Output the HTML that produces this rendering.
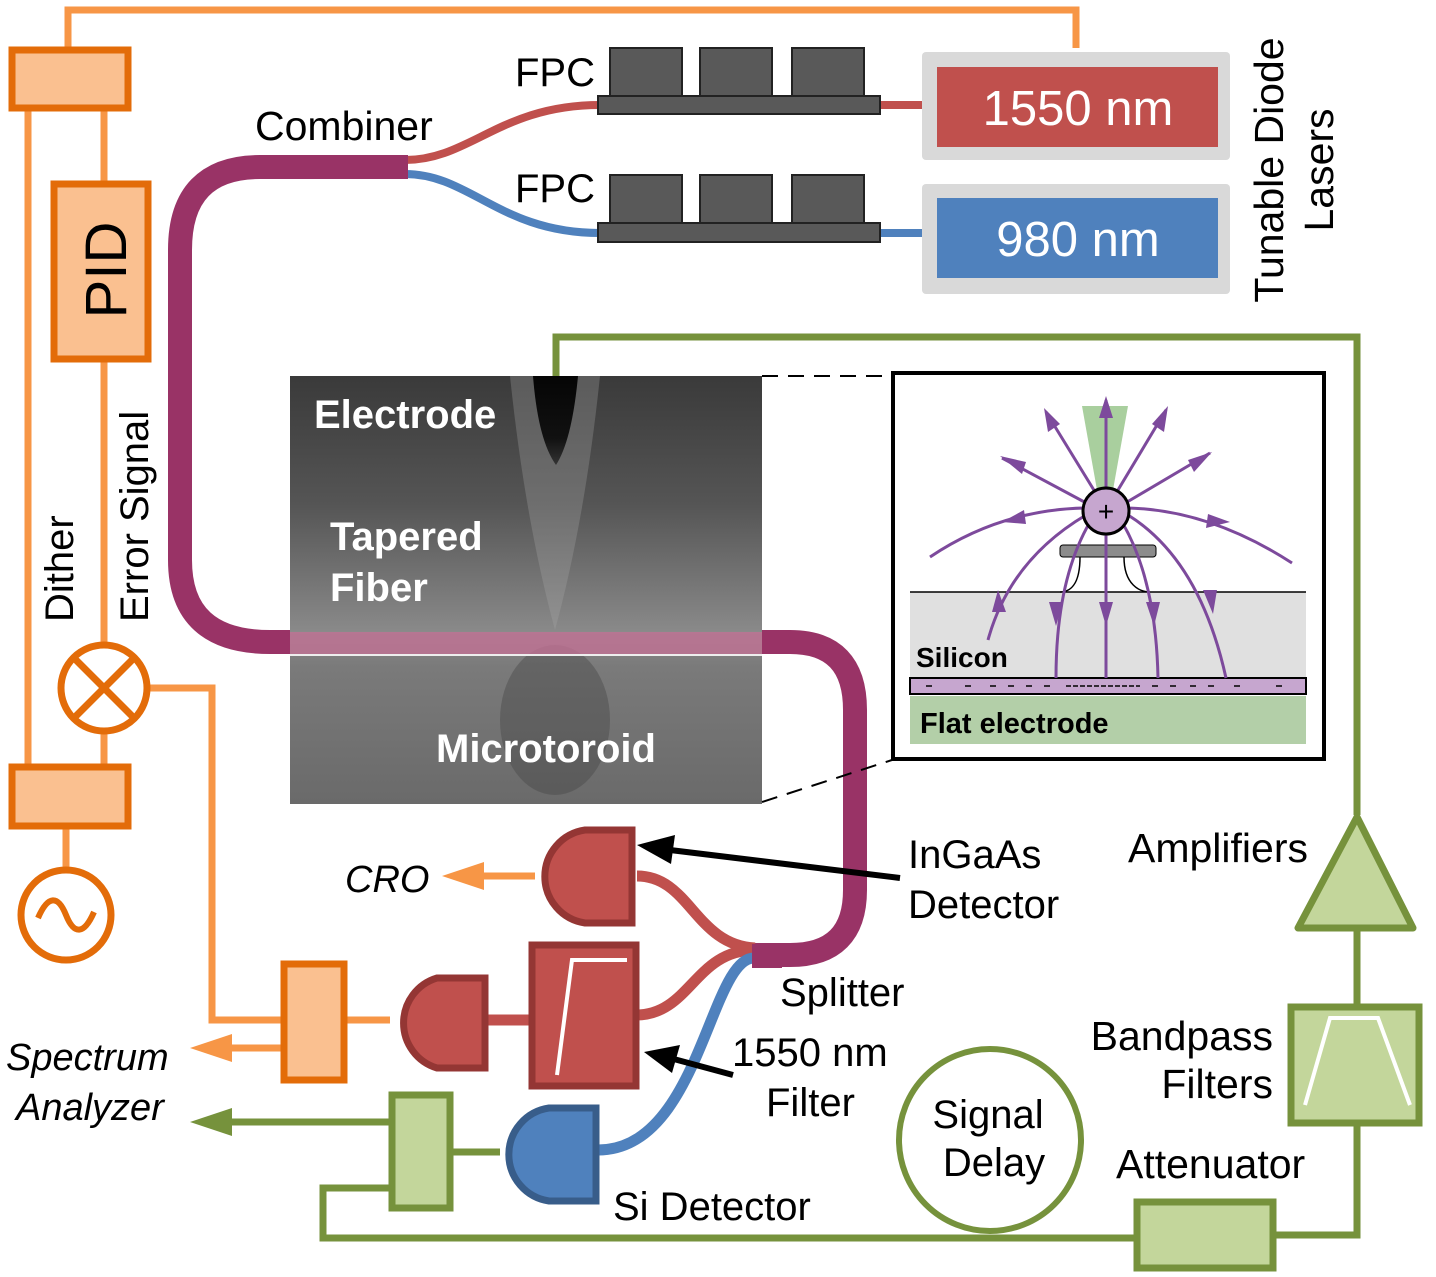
<!DOCTYPE html>
<html><head><meta charset="utf-8"><style>
html,body{margin:0;padding:0;background:#fff}
svg{display:block}
text{font-family:"Liberation Sans",Arial,sans-serif}
</style></head><body>
<svg width="1436" height="1277" viewBox="0 0 1436 1277" xmlns="http://www.w3.org/2000/svg">
<defs>
<linearGradient id="img" x1="0" y1="0" x2="0" y2="1">
<stop offset="0" stop-color="#3a3a3a"/><stop offset="0.3" stop-color="#555"/><stop offset="0.6" stop-color="#8a8a8a"/><stop offset="0.68" stop-color="#7a7a7a"/><stop offset="1" stop-color="#6a6a6a"/>
</linearGradient>
<linearGradient id="tipg" x1="0" y1="0" x2="0" y2="1">
<stop offset="0" stop-color="#050505"/><stop offset="0.7" stop-color="#111"/><stop offset="1" stop-color="#333"/>
</linearGradient>
<clipPath id="ic"><rect x="290" y="376" width="472" height="428"/></clipPath>
</defs>

<!-- orange control lines -->
<g stroke="#f79646" stroke-width="7" fill="none">
<polyline points="68,48 68,10 1076,10 1076,48"/>
<line x1="28" y1="108" x2="28" y2="765"/>
<line x1="104" y1="108" x2="104" y2="182"/>
<line x1="104" y1="360" x2="104" y2="765"/>
<line x1="66" y1="828" x2="66" y2="870"/>
<polyline points="150,688 212,688 212,1020 282,1020"/>
<line x1="345" y1="1020" x2="390" y2="1020"/>
<line x1="282" y1="1048" x2="230" y2="1048"/>
<line x1="535" y1="876" x2="480" y2="876"/>
</g>
<polygon points="190,1048 232,1034 232,1062" fill="#f79646"/>
<polygon points="442,876 484,862 484,890" fill="#f79646"/>
<rect x="12" y="50" width="116" height="58" fill="#fac090" stroke="#e36c09" stroke-width="7"/>
<rect x="54" y="184" width="94" height="175" fill="#fac090" stroke="#e36c09" stroke-width="7"/>
<text transform="translate(126,270) rotate(-90)" font-size="58" text-anchor="middle">PID</text>
<rect x="12" y="767" width="116" height="59" fill="#fac090" stroke="#e36c09" stroke-width="7"/>
<circle cx="104" cy="688" r="43" fill="#fff" stroke="#e36c09" stroke-width="7"/>
<g stroke="#e36c09" stroke-width="7"><line x1="74" y1="658" x2="134" y2="718"/><line x1="134" y1="658" x2="74" y2="718"/></g>
<circle cx="66" cy="915" r="45" fill="#fff" stroke="#e36c09" stroke-width="7"/>
<path d="M38,918 C48,895 58,895 66,915 C74,935 84,935 94,912" stroke="#e36c09" stroke-width="6" fill="none"/>
<rect x="284" y="964" width="60" height="116" fill="#fac090" stroke="#e36c09" stroke-width="7"/>
<text transform="translate(73,622) rotate(-90)" font-size="40">Dither</text>
<text transform="translate(148,622) rotate(-90)" font-size="40">Error Signal</text>

<!-- green lines -->
<g stroke="#76923c" stroke-width="7" fill="none">
<polyline points="556,376 556,337 1357,337 1357,815"/>
<line x1="1357" y1="930" x2="1357" y2="1005"/>
<polyline points="1357,1125 1357,1235 1275,1235"/>
<polyline points="1135,1238 323,1238 323,1188 390,1188"/>
<line x1="452" y1="1152" x2="500" y2="1152"/>
<line x1="390" y1="1122" x2="230" y2="1122"/>
</g>
<polygon points="190,1122 232,1108 232,1136" fill="#76923c"/>
<polygon points="1357,817 1298,928 1413,928" fill="#c3d69b" stroke="#76923c" stroke-width="7" stroke-linejoin="round"/>
<rect x="1291" y="1007" width="128" height="116" fill="#c3d69b" stroke="#76923c" stroke-width="7"/>
<polyline points="1305,1105 1330,1018 1378,1018 1410,1105" stroke="#fff" stroke-width="4" fill="none"/>
<rect x="1137" y="1202" width="136" height="66" fill="#c3d69b" stroke="#76923c" stroke-width="7"/>
<rect x="392" y="1095" width="58" height="113" fill="#c3d69b" stroke="#76923c" stroke-width="7"/>
<circle cx="990" cy="1140" r="91" fill="#fff" stroke="#76923c" stroke-width="6"/>
<text x="988" y="1128" font-size="40" text-anchor="middle">Signal</text>
<text x="994" y="1176" font-size="40" text-anchor="middle">Delay</text>

<!-- FPC & lasers -->
<path d="M405,160 C470,160 500,105 600,105" stroke="#c0504d" stroke-width="8" fill="none"/>
<path d="M405,174 C470,174 500,233 600,233" stroke="#4f81bd" stroke-width="8" fill="none"/>
<line x1="880" y1="105" x2="935" y2="105" stroke="#c0504d" stroke-width="8"/>
<line x1="880" y1="233" x2="935" y2="233" stroke="#4f81bd" stroke-width="8"/>
<g fill="#595959" stroke="#222" stroke-width="2">
<rect x="610" y="48" width="72" height="48"/><rect x="700" y="48" width="72" height="48"/><rect x="792" y="48" width="72" height="48"/>
<rect x="598" y="96" width="282" height="18"/>
<rect x="610" y="175" width="72" height="48"/><rect x="700" y="175" width="72" height="48"/><rect x="792" y="175" width="72" height="48"/>
<rect x="598" y="223" width="282" height="19"/>
</g>
<text x="515" y="86" font-size="40">FPC</text>
<text x="515" y="202" font-size="40">FPC</text>
<text x="255" y="140" font-size="41">Combiner</text>
<rect x="922" y="52" width="308" height="108" rx="4" fill="#d9d9d9"/>
<rect x="937" y="67" width="281" height="80" fill="#c0504d"/>
<rect x="922" y="184" width="308" height="110" rx="4" fill="#d9d9d9"/>
<rect x="937" y="198" width="281" height="80" fill="#4f81bd"/>
<text x="1078" y="125" font-size="49" fill="#fff" text-anchor="middle">1550 nm</text>
<text x="1078" y="256" font-size="49" fill="#fff" text-anchor="middle">980 nm</text>
<text transform="translate(1283,170) rotate(-90)" font-size="41" text-anchor="middle">Tunable Diode</text>
<text transform="translate(1333,170) rotate(-90)" font-size="41" text-anchor="middle">Lasers</text>

<!-- fiber -->
<path d="M408,167 L260,167 Q180,167 180,250 L180,560 Q180,642 270,642 L295,642" stroke="#993366" stroke-width="24" fill="none"/>
<path d="M758,642 L790,642 Q855,642 855,710 L855,890 Q855,955 790,955 L755,955" stroke="#993366" stroke-width="24" fill="none"/>

<!-- microscope image -->
<rect x="290" y="376" width="472" height="428" fill="url(#img)"/>
<g clip-path="url(#ic)">
<path d="M510,376 L600,376 Q585,520 555,630 Q525,520 510,376 Z" fill="#aaa" opacity="0.3"/>
<path d="M533,376 L578,376 Q572,440 556,465 Q538,440 533,376 Z" fill="url(#tipg)"/>
<ellipse cx="555" cy="720" rx="55" ry="75" fill="#444" opacity="0.4"/>
</g>
<rect x="290" y="632" width="472" height="22" fill="#c07094" opacity="0.8"/>
<line x1="290" y1="655" x2="762" y2="655" stroke="#eee" stroke-width="2"/>
<text x="314" y="428" font-size="40" font-weight="bold" fill="#fff">Electrode</text>
<text x="330" y="550" font-size="40" font-weight="bold" fill="#fff">Tapered</text>
<text x="330" y="601" font-size="40" font-weight="bold" fill="#fff">Fiber</text>
<text x="436" y="762" font-size="40" font-weight="bold" fill="#fff">Microtoroid</text>
<line x1="762" y1="376" x2="892" y2="376" stroke="#000" stroke-width="2" stroke-dasharray="16,10"/>
<line x1="762" y1="802" x2="892" y2="760" stroke="#000" stroke-width="2" stroke-dasharray="16,10"/>

<!-- inset -->
<rect x="893" y="373" width="431" height="386" fill="#fff" stroke="#000" stroke-width="4"/>
<rect x="910" y="592" width="396" height="88" fill="#e0e0e0"/>
<line x1="910" y1="592" x2="1306" y2="592" stroke="#000" stroke-width="1.5"/>
<rect x="910" y="678" width="396" height="16" fill="#c6a6cf" stroke="#000" stroke-width="2"/>
<rect x="910" y="696" width="396" height="48" fill="#b3cfa8"/>
<text x="916" y="667" font-size="28" font-weight="bold">Silicon</text>
<text x="920" y="733" font-size="29" font-weight="bold">Flat electrode</text>
<g stroke="#000" stroke-width="1.5">
<line x1="926" y1="686" x2="932" y2="686"/><line x1="965" y1="686" x2="971" y2="686"/>
<line x1="990" y1="686" x2="996" y2="686"/><line x1="1008" y1="686" x2="1014" y2="686"/><line x1="1026" y1="686" x2="1032" y2="686"/><line x1="1044" y1="686" x2="1050" y2="686"/>
<line x1="1066" y1="686" x2="1140" y2="686" stroke-dasharray="5,2"/>
<line x1="1152" y1="686" x2="1158" y2="686"/><line x1="1170" y1="686" x2="1176" y2="686"/><line x1="1190" y1="686" x2="1196" y2="686"/><line x1="1208" y1="686" x2="1214" y2="686"/><line x1="1234" y1="686" x2="1240" y2="686"/><line x1="1276" y1="686" x2="1282" y2="686"/>
</g>
<polygon points="1082,406 1128,406 1113,490 1097,490" fill="#a9cf9e"/>
<rect x="1060" y="545" width="96" height="12" rx="3" fill="#8c8c8c" stroke="#000" stroke-width="1"/>
<path d="M1080,557 C1080,585 1070,592 1060,592 M1124,557 C1124,585 1140,592 1150,592" stroke="#000" stroke-width="1.5" fill="none"/>
<g stroke="#7d4a9c" stroke-width="3" fill="none">
<line x1="1106" y1="400" x2="1106" y2="678"/>
<line x1="1100" y1="500" x2="1046" y2="412"/>
<line x1="1112" y1="500" x2="1166" y2="410"/>
<line x1="1090" y1="505" x2="1002" y2="458"/>
<line x1="1122" y1="505" x2="1210" y2="453"/>
<path d="M1084,508 Q1000,510 930,557"/>
<path d="M1128,508 Q1210,510 1292,563"/>
<path d="M1086,515 Q1010,560 988,640"/>
<path d="M1090,522 Q1056,580 1056,678"/>
<path d="M1122,522 Q1156,580 1158,678"/>
<path d="M1128,515 Q1200,560 1226,678"/>
</g>
<g fill="#7d4a9c">
<polygon points="1106,396 1099,418 1113,418"/>
<polygon points="1044,408 1048,432 1060,424"/>
<polygon points="1168,406 1152,424 1164,432"/>
<polygon points="1000,456 1022,474 1026,462"/>
<polygon points="1212,452 1188,460 1194,472"/>
<polygon points="1002,522 1024,510 1026,524"/>
<polygon points="1230,522 1208,514 1206,528"/>
<polygon points="998,590 1006,612 992,612" />
<polygon points="1049,602 1063,602 1056,626"/>
<polygon points="1099,602 1113,602 1106,626"/>
<polygon points="1146,602 1160,602 1154,626"/>
<polygon points="1203,590 1217,590 1213,614"/>
</g>
<circle cx="1106" cy="511" r="23" fill="#c6a6cf" stroke="#000" stroke-width="3"/>
<text x="1106" y="521" font-size="28" text-anchor="middle">+</text>

<!-- detectors & splitter -->
<path d="M637,876 C690,876 695,945 755,948" stroke="#c0504d" stroke-width="11" fill="none"/>
<path d="M636,1015 C690,1015 695,950 755,950" stroke="#c0504d" stroke-width="11" fill="none"/>
<path d="M598,1150 C700,1150 710,955 755,958" stroke="#4f81bd" stroke-width="11" fill="none"/>
<line x1="487" y1="1020" x2="530" y2="1020" stroke="#c0504d" stroke-width="11"/>
<rect x="752" y="944" width="30" height="24" fill="#993366"/>
<path d="M632,830 L585,830 A47,47 0 0 0 585,923 L632,923 Z" fill="#c0504d" stroke="#943634" stroke-width="7"/>
<path d="M485,978 L437,978 A47,47 0 0 0 437,1068 L485,1068 Z" fill="#c0504d" stroke="#943634" stroke-width="7"/>
<rect x="532" y="945" width="104" height="141" fill="#c0504d" stroke="#943634" stroke-width="7"/>
<polyline points="557,1075 572,960 627,960" stroke="#fff" stroke-width="4" fill="none"/>
<path d="M596,1108 L549,1108 A47,47 0 0 0 549,1201 L596,1201 Z" fill="#4f81bd" stroke="#385d8a" stroke-width="7"/>

<!-- black arrows -->
<line x1="900" y1="878" x2="670" y2="850" stroke="#000" stroke-width="6"/>
<polygon points="637,845 675,835 671,864" fill="#000"/>
<line x1="733" y1="1075" x2="670" y2="1058" stroke="#000" stroke-width="6"/>
<polygon points="644,1052 680,1045 672,1073" fill="#000"/>

<!-- labels -->
<text x="345" y="892" font-size="38" font-style="italic">CRO</text>
<text x="6" y="1070" font-size="38" font-style="italic">Spectrum</text>
<text x="16" y="1120" font-size="38" font-style="italic">Analyzer</text>
<text x="908" y="868" font-size="40">InGaAs</text>
<text x="908" y="918" font-size="40">Detector</text>
<text x="780" y="1006" font-size="40">Splitter</text>
<text x="732" y="1066" font-size="40">1550 nm</text>
<text x="766" y="1116" font-size="40">Filter</text>
<text x="613" y="1220" font-size="40">Si Detector</text>
<text x="1128" y="862" font-size="41">Amplifiers</text>
<text x="1273" y="1050" font-size="41" text-anchor="end">Bandpass</text>
<text x="1273" y="1098" font-size="41" text-anchor="end">Filters</text>
<text x="1116" y="1178" font-size="41">Attenuator</text>
</svg>
</body></html>
